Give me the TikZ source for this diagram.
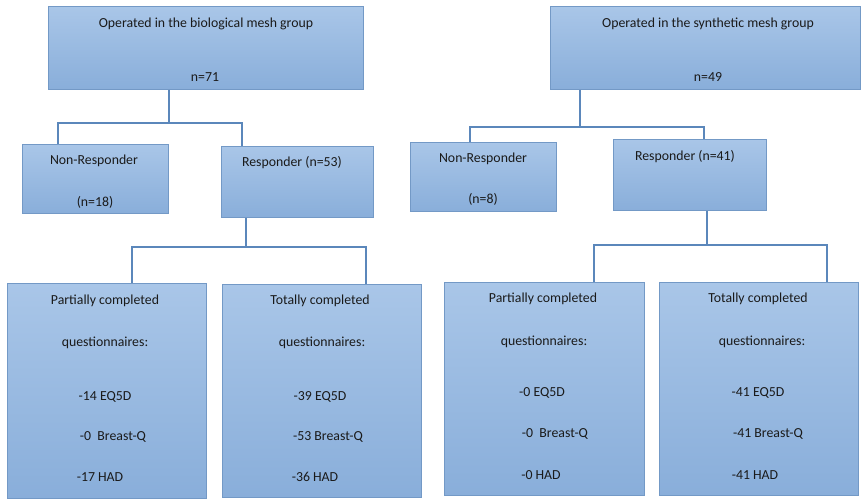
\documentclass[tikz,border=0pt]{standalone}
\usepackage{fontspec}
\setmainfont{Carlito}
\usetikzlibrary{positioning}
\definecolor{BoxTop}{HTML}{A9C6E8}
\definecolor{BoxBot}{HTML}{89AEDA}
\definecolor{BoxRule}{HTML}{7399C6}
\definecolor{Link}{HTML}{5B87BB}
\definecolor{Ink}{HTML}{1A1A1A}

\begin{document}
\begin{tikzpicture}[x=1pt, y=-1pt,
  box/.style={draw=BoxRule, top color=BoxTop, bottom color=BoxBot, line width=0.8pt,
              inner sep=0pt, anchor=north west},
  txt/.style={font=\fontsize{13.8}{16}\selectfont, text=Ink, inner sep=0pt},
  link/.style={draw=Link, line width=1.7pt}]
  \useasboundingbox (0,0) rectangle (862,499);

  % group boxes
  \node[box, minimum width=315pt, minimum height=83pt] (bio) at (48,6) {};
  \node[box, minimum width=310pt, minimum height=83pt] (syn) at (550,6) {};
  \node[txt] (bioT) at (206,24) {Operated in the biological mesh group};
  \node[txt] (bioN) at (205,77) {n=71};
  \node[txt] (synT) at (708,24) {Operated in the synthetic mesh group};
  \node[txt] (synN) at (708,77) {n=49};

  % responders
  \node[box, minimum width=146pt, minimum height=69pt] (nrA) at (22,144) {};
  \node[box, minimum width=152pt, minimum height=71pt] (rA) at (221,146) {};
  \node[box, minimum width=146pt, minimum height=69pt] (nrB) at (410,142) {};
  \node[box, minimum width=153pt, minimum height=71pt] (rB) at (613,139) {};
  \node[txt] (nrAT) at (94,161) {Non-Responder};
  \node[txt] (nrAN) at (95,202) {(n=18)};
  \node[txt] (rAT) at (292,163) {Responder (n=53)};
  \node[txt] (nrBT) at (483,159) {Non-Responder};
  \node[txt] (nrBN) at (483,199) {(n=8)};
  \node[txt] (rBT) at (685,157) {Responder (n=41)};

  % questionnaires
  \node[box, minimum width=199pt, minimum height=215pt] (pA) at (7,283) {};
  \node[box, minimum width=199pt, minimum height=213pt] (tA) at (222,284) {};
  \node[box, minimum width=200pt, minimum height=213pt] (pB) at (444,282) {};
  \node[box, minimum width=199pt, minimum height=213pt] (tB) at (659,282) {};

  \node[txt] (pA1) at (105,301) {Partially completed};
  \node[txt] (pA2) at (105,343) {questionnaires:};
  \node[txt] (pA3) at (105,397) {-14 EQ5D};
  \node[txt] (pA4) at (113,437) {-0\ \ Breast-Q};
  \node[txt] (pA5) at (100,477) {-17 HAD};

  \node[txt] (tA1) at (320,301) {Totally completed};
  \node[txt] (tA2) at (322,343) {questionnaires:};
  \node[txt] (tA3) at (320,397) {-39 EQ5D};
  \node[txt] (tA4) at (328,437) {-53 Breast-Q};
  \node[txt] (tA5) at (315,477) {-36 HAD};

  \node[txt] (pB1) at (543,299) {Partially completed};
  \node[txt] (pB2) at (544,342) {questionnaires:};
  \node[txt] (pB3) at (542,393) {-0 EQ5D};
  \node[txt] (pB4) at (555,434) {-0\ \ Breast-Q};
  \node[txt] (pB5) at (541,475) {-0 HAD};

  \node[txt] (tB1) at (758,299) {Totally completed};
  \node[txt] (tB2) at (762,342) {questionnaires:};
  \node[txt] (tB3) at (758,393) {-41 EQ5D};
  \node[txt] (tB4) at (768,434) {-41 Breast-Q};
  \node[txt] (tB5) at (755,475) {-41 HAD};

  % tree links
  \coordinate (jA) at (169,123);
  \coordinate (jAl) at (58,123);
  \coordinate (jAr) at (242,123);
  \draw[link] (bio.south -| jA) -- (jA);
  \draw[link] (nrA.north -| jAl) -- (jAl) -- (jAr) -- (rA.north -| jAr);

  \coordinate (kA) at (246,247);
  \coordinate (kAl) at (132,247);
  \coordinate (kAr) at (366,247);
  \draw[link] (rA.south -| kA) -- (kA);
  \draw[link] (pA.north -| kAl) -- (kAl) -- (kAr) -- (tA.north -| kAr);

  \coordinate (jB) at (580,127);
  \coordinate (jBl) at (470,127);
  \coordinate (jBr) at (704,127);
  \draw[link] (syn.south -| jB) -- (jB);
  \draw[link] (nrB.north -| jBl) -- (jBl) -- (jBr) -- (rB.north -| jBr);

  \coordinate (kB) at (707,245);
  \coordinate (kBl) at (594,245);
  \coordinate (kBr) at (827,245);
  \draw[link] (rB.south -| kB) -- (kB);
  \draw[link] (pB.north -| kBl) -- (kBl) -- (kBr) -- (tB.north -| kBr);
\end{tikzpicture}
\end{document}
